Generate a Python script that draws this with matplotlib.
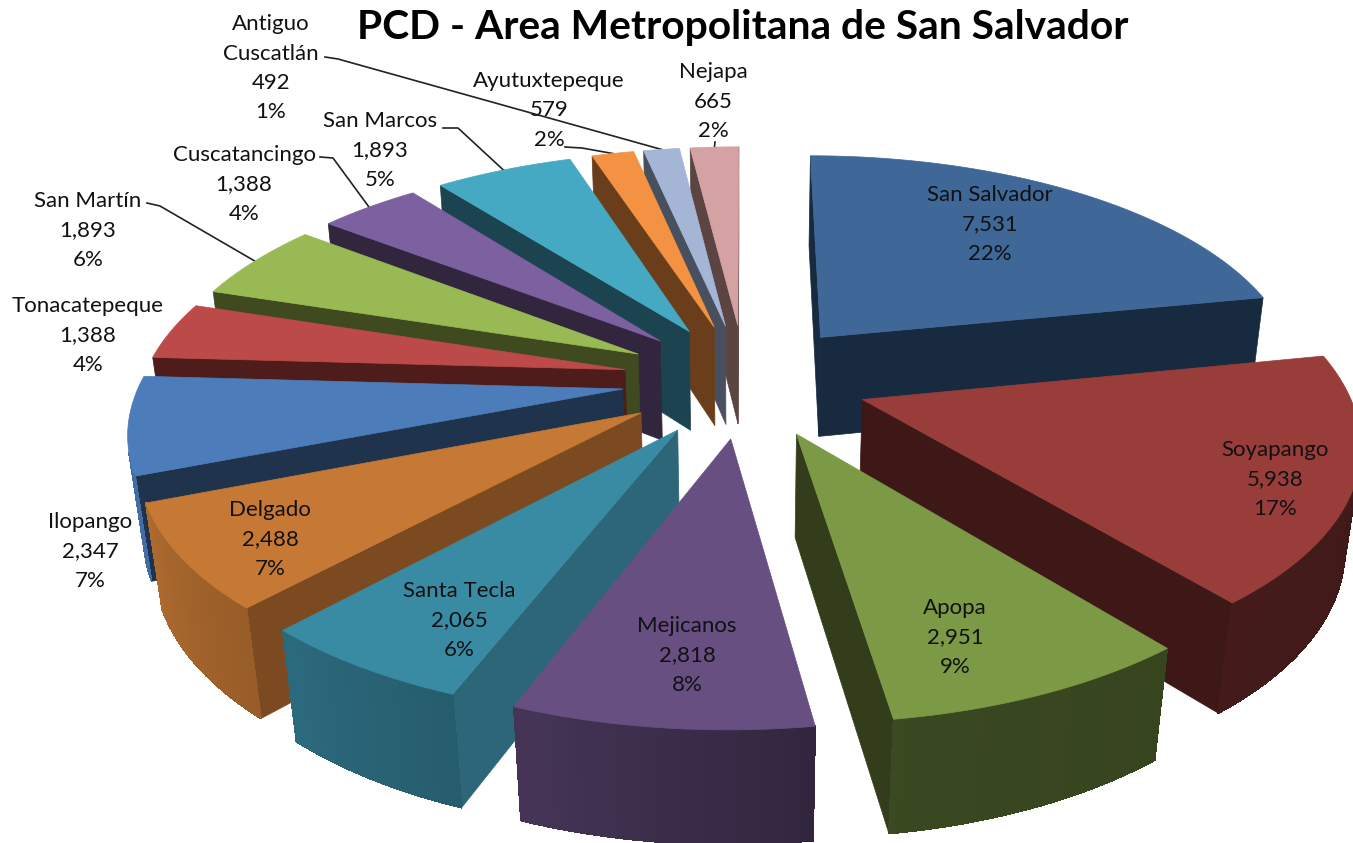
import numpy as np
import matplotlib
matplotlib.use("Agg")
import matplotlib.pyplot as plt
from matplotlib.patches import Polygon

# Data, clockwise from the top
municipios = ["San Salvador", "Soyapango", "Apopa", "Mejicanos", "Santa Tecla",
              "Delgado", "Ilopango", "Tonacatepeque", "San Martín", "Cuscatancingo",
              "San Marcos", "Ayutuxtepeque", "Antiguo\nCuscatlán", "Nejapa"]
valores = [7531, 5938, 2951, 2818, 2065, 2488, 2347, 1388, 1893, 1388, 1893, 579, 492, 665]
porcentajes = ["22%", "17%", "9%", "8%", "6%", "7%", "7%", "4%", "6%", "4%", "5%", "2%", "1%", "2%"]

top_colors = ["#3F6797", "#993D3B", "#7C9A46", "#684F82", "#398BA4", "#C67935", "#4C7DBA",
              "#BC4A48", "#98B954", "#7D60A0", "#46A9C4", "#F39242", "#A4B5D6", "#D4A2A2"]
wall_colors = ["#182A40", "#3E1816", "#333D1B", "#3B2C50", "#2D6678", "#7B4A21", "#1F334D",
               "#4E1C1B", "#3F4A1E", "#32263F", "#1C4450", "#6A3E1A", "#48505F", "#5B4442"]

# Label centres in pixels (x, y of first line)
label_pos = [(990, 195), (1275, 450), (955, 608), (687, 626), (459, 591), (270, 510), (90, 522),
             (88, 306), (88, 201), (244, 155), (380, 121), (549, 81), (271, 24), (713, 72)]
# Leader line starts: slice index -> points before the rim
leaders = {8: [(147, 203), (160, 206)], 9: [(320, 157), (333, 158)], 10: [(443, 128), (458, 128)],
           11: [(565, 147), (582, 148)], 12: [(325, 57), (338, 59)], 13: [(715, 142)]}

# Camera
cx, cy = 745, 380
scale = 482
tilt = 0.463
persp = 0.16
persp_z = 0.12
explode = 0.255
depth = 0.215
line_h = 29.5

shade_angle = [90, 170, 200, 222, 250, 280]
shade_value = [0.40, 0.47, 0.66, 0.76, 0.88, 0.90]


def project(x, y, z=0.0):
    w = 1 + persp * y + persp_z * z
    return cx + scale * x / w, cy - scale * tilt * y / w + scale * z / w


def rim_point(theta, mid, z=0.0):
    t, m = np.radians(theta), np.radians(mid)
    return project(np.sin(t) + explode * np.sin(m), np.cos(t) + explode * np.cos(m), z)


def tip_point(mid, z=0.0):
    m = np.radians(mid)
    return project(explode * np.sin(m), explode * np.cos(m), z)


def faces_viewer(pts):
    xs, ys = np.array(pts).T
    return np.sum(xs * np.roll(ys, -1) - np.roll(xs, -1) * ys) < 0


def darker(color, f):
    return tuple(c * f for c in matplotlib.colors.to_rgb(color))


def add_face(ax, pts, color, zorder, lw=0.5, aa=True):
    ax.add_patch(Polygon(pts, closed=True, facecolor=color, edgecolor=color, lw=lw,
                         zorder=zorder, antialiased=aa))


plt.rcParams["font.family"] = ["Lato", "DejaVu Sans"]
fig = plt.figure(figsize=(13.53, 8.43), dpi=100)
ax = fig.add_axes([0, 0, 1, 1])
ax.set_xlim(0, 1353)
ax.set_ylim(843, 0)
ax.axis("off")

bounds = np.concatenate([[0], np.cumsum(valores)]) / np.sum(valores) * 360
mids = (bounds[:-1] + bounds[1:]) / 2

# back to front
order = sorted(range(len(valores)), key=lambda i: -np.cos(np.radians(mids[i])))
for rank, i in enumerate(order):
    a0, a1, mid = bounds[i], bounds[i + 1], mids[i]
    z = 3 + rank
    thetas = np.linspace(a0, a1, max(int(a1 - a0) * 2, 4))

    # radial walls
    tip_t, tip_b = tip_point(mid), tip_point(mid, depth)
    start = [tip_t, rim_point(a0, mid), rim_point(a0, mid, depth), tip_b]
    end = [rim_point(a1, mid), tip_t, tip_b, rim_point(a1, mid, depth)]
    for wall in (start, end):
        if faces_viewer(wall):
            add_face(ax, wall, wall_colors[i], z)

    # outer wall, shaded strip by strip (no antialiasing so seams don't show)
    for t0, t1 in zip(thetas[:-1], thetas[1:]):
        quad = [rim_point(t0, mid), rim_point(t1, mid), rim_point(t1, mid, depth), rim_point(t0, mid, depth)]
        if faces_viewer(quad):
            f = np.interp((t0 + t1) / 2, shade_angle, shade_value)
            add_face(ax, quad, darker(top_colors[i], f), z, lw=0.5, aa=False)

    # top
    add_face(ax, [tip_t] + [rim_point(t, mid) for t in thetas], top_colors[i], z)

# leader lines, tucked under the slices
for i, pts in leaders.items():
    end_pt = rim_point(mids[i], mids[i])
    xs, ys = zip(*(pts + [end_pt]))
    ax.plot(xs, ys, color="#222222", lw=1.2, zorder=2)

# labels
for name, val, pct, (x, y) in zip(municipios, valores, porcentajes, label_pos):
    lines = name.split("\n") + [f"{val:,}", pct]
    for n, line in enumerate(lines):
        ax.text(x, y + n * line_h, line, ha="center", va="center", fontsize=16,
                color="#111111", zorder=50)

ax.text(743, 27, "PCD - Area Metropolitana de San Salvador", ha="center", va="center",
        fontsize=29.3, fontweight="bold", color="black", zorder=50)

fig.savefig("out.png", dpi=100)
